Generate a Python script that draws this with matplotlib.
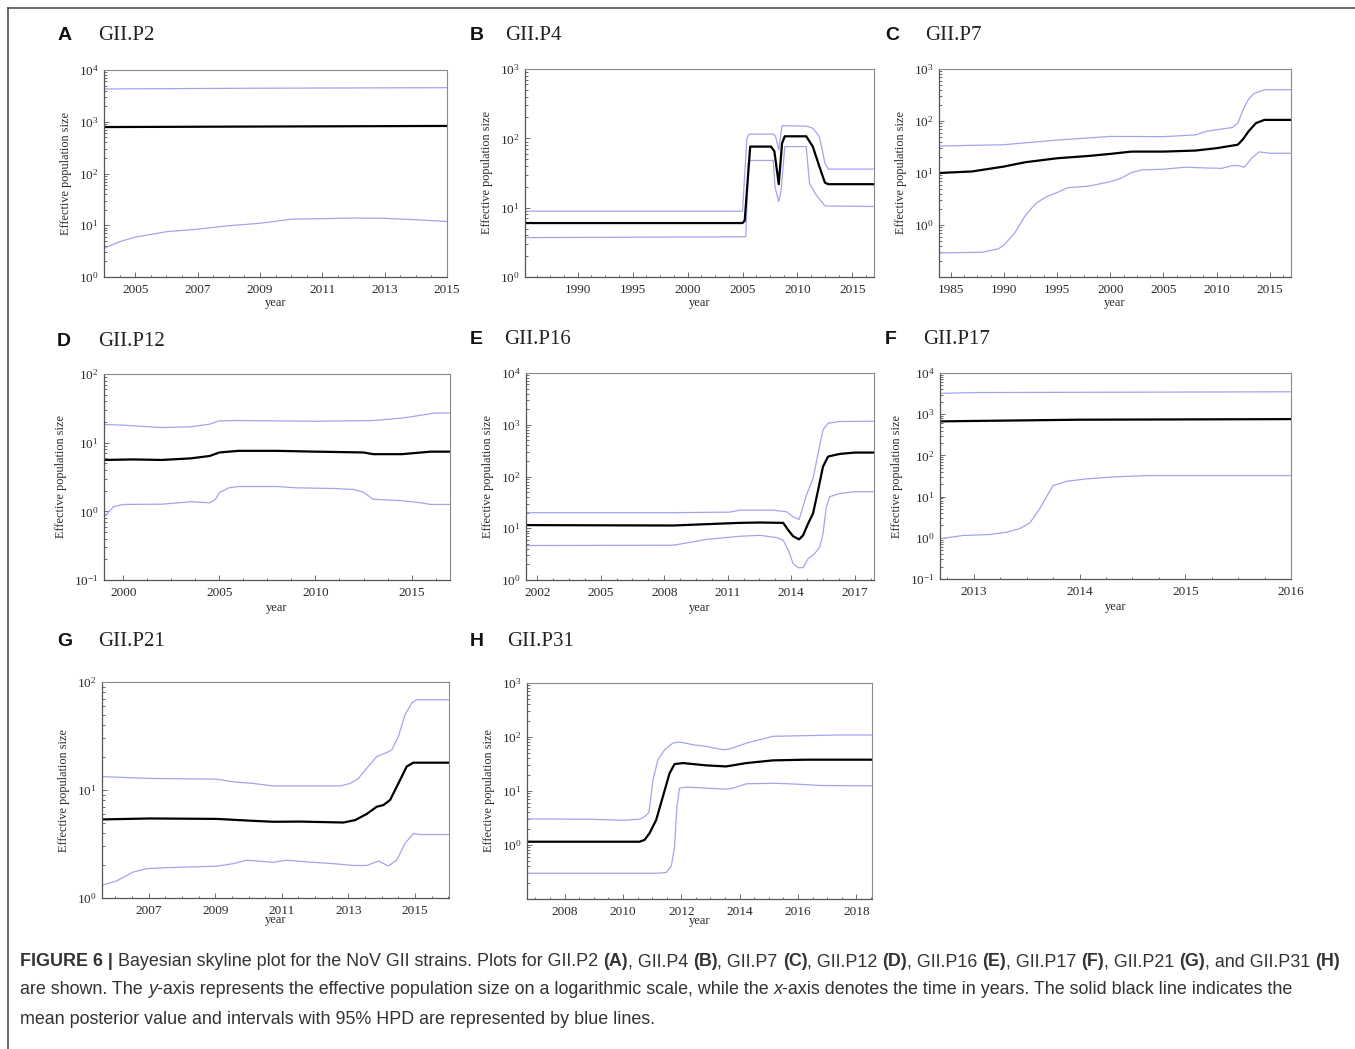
import matplotlib
matplotlib.use("Agg")
import matplotlib.pyplot as plt
from matplotlib.lines import Line2D
from matplotlib.ticker import FixedLocator, LogLocator, NullFormatter, AutoMinorLocator

# ---- data (year, effective population size) ----

# A  GII.P2
a_upper_year = [2004.0, 2009.0, 2015.0]
a_upper = [4300, 4450, 4550]
a_mean_year = [2004.0, 2015.0]
a_mean = [790, 830]
a_lower_year = [2004.0, 2004.5, 2005, 2006, 2007, 2008, 2009, 2010, 2011, 2012, 2013, 2014, 2015]
a_lower = [3.6, 4.8, 5.9, 7.5, 8.4, 9.8, 10.9, 13.1, 13.4, 13.8, 13.6, 12.8, 11.8]

# B  GII.P4
b_upper_year = [1985.2, 2005.0, 2005.4, 2005.6, 2007.8, 2008.0, 2008.3, 2008.5, 2008.6,
                2010.8, 2011.4, 2012.0, 2012.5, 2012.8, 2016.97]
b_upper = [8.9, 8.9, 100, 115, 115, 108, 68, 120, 152, 150, 140, 106, 44, 36, 36]
b_mean_year = [1985.2, 2005.0, 2005.2, 2005.7, 2007.6, 2007.9, 2008.3, 2008.6, 2008.85,
               2010.8, 2011.4, 2012.0, 2012.5, 2012.8, 2016.97]
b_mean = [6.0, 6.0, 6.5, 76, 76, 65, 21.8, 85, 107, 107, 76, 39, 23, 21.8, 21.8]
b_lower_year = [1985.2, 2005.3, 2005.55, 2007.8, 2007.95, 2008.3, 2008.5, 2008.85,
                2010.8, 2011.1, 2011.7, 2012.5, 2016.97]
b_lower = [3.7, 3.8, 48, 48, 20, 12.2, 17, 76, 76, 22.5, 15.3, 10.6, 10.4]

# C  GII.P7
c_upper_year = [1983.9, 1990, 1995, 2000, 2005, 2008, 2009, 2010, 2011.5, 2012, 2012.5,
                2013, 2013.5, 2014.5, 2017.0]
c_upper = [33, 35, 43, 50.5, 50, 54, 63, 68, 75, 91, 165, 260, 335, 400, 400]
c_mean_year = [1983.9, 1987, 1990, 1992, 1995, 1998, 2000, 2002, 2005, 2008, 2010, 2012,
               2012.5, 2013, 2013.7, 2014.5, 2017.0]
c_mean = [10, 10.7, 13.3, 16.1, 19.2, 21.3, 23.3, 25.8, 25.8, 27, 30, 35, 45, 63, 91, 105, 105]
c_lower_year = [1983.9, 1988, 1989.5, 1990, 1991, 1992, 1993, 1994, 1995, 1996, 1998, 2000,
                2001, 2002, 2003, 2005, 2007, 2009, 2010.5, 2011.5, 2012, 2012.6, 2013.3,
                2014, 2015, 2017.0]
c_lower = [0.29, 0.30, 0.35, 0.41, 0.69, 1.5, 2.6, 3.5, 4.2, 5.2, 5.6, 6.8, 7.9, 10.2, 11.5,
           11.8, 12.9, 12.5, 12.3, 13.9, 13.9, 12.9, 19.2, 25.5, 24, 24]

# D  GII.P12
d_upper_year = [1999.0, 2000, 2002, 2003.5, 2004.5, 2005, 2006, 2010, 2013, 2014.5, 2015.3,
                2016.2, 2017.0]
d_upper = [18.4, 18, 16.6, 17, 18.6, 20.8, 21, 20.5, 21, 22.8, 24.6, 27, 27]
d_mean_year = [1999.0, 2000.5, 2002, 2003.5, 2004.5, 2005, 2006, 2008, 2010, 2012.5, 2013,
               2014.5, 2016, 2017.0]
d_mean = [5.6, 5.7, 5.6, 5.9, 6.4, 7.2, 7.6, 7.6, 7.4, 7.2, 6.8, 6.8, 7.4, 7.4]
d_lower_year = [1999.0, 1999.5, 2000, 2002, 2003.5, 2004.5, 2004.8, 2005, 2005.5, 2006, 2008,
                2009, 2011, 2012, 2012.5, 2013, 2014.5, 2015.5, 2016, 2017.0]
d_lower = [0.83, 1.17, 1.26, 1.27, 1.38, 1.33, 1.5, 1.87, 2.2, 2.3, 2.3, 2.2, 2.15, 2.08, 1.9,
           1.5, 1.43, 1.33, 1.26, 1.26]

# E  GII.P16
e_upper_year = [2001.47, 2008.43, 2011.1, 2011.58, 2013.15, 2013.78, 2014.09, 2014.37,
                2014.56, 2014.72, 2015.03, 2015.27, 2015.5, 2015.74, 2016.29, 2017.91]
e_upper = [20, 20, 20.5, 22.4, 22.4, 20.8, 16.6, 14.8, 26, 43.8, 92, 281, 800, 1070, 1156, 1170]
e_mean_year = [2001.47, 2008.43, 2010.0, 2011.58, 2012.52, 2013.62, 2013.86, 2014.09, 2014.37,
               2014.56, 2014.8, 2015.03, 2015.27, 2015.5, 2015.74, 2016.29, 2017.0, 2017.91]
e_mean = [11.5, 11.3, 12, 12.7, 12.9, 12.7, 9.2, 7.0, 6.1, 7.3, 12.4, 19.3, 54.7, 155, 243,
          273, 290, 290]
e_lower_year = [2001.47, 2008.43, 2009.06, 2010.0, 2011.58, 2012.52, 2013.3, 2013.62, 2013.86,
                2014.09, 2014.33, 2014.56, 2014.8, 2015.11, 2015.35, 2015.5, 2015.66, 2015.82,
                2016.29, 2017.0, 2017.91]
e_lower = [4.63, 4.7, 5.2, 6.1, 7.0, 7.3, 6.6, 5.87, 3.76, 2.07, 1.73, 1.73, 2.59, 3.24, 4.37,
           7.9, 26, 40.7, 47, 50.8, 50.8]

# F  GII.P17
f_upper_year = [2012.68, 2013.0, 2016.0]
f_upper = [3200, 3350, 3500]
f_mean_year = [2012.68, 2014.0, 2016.0]
f_mean = [670, 735, 760]
f_lower_year = [2012.68, 2012.9, 2013.15, 2013.31, 2013.43, 2013.53, 2013.62, 2013.69, 2013.75,
                2013.88, 2014.07, 2014.32, 2014.64, 2016.0]
f_lower = [0.95, 1.14, 1.2, 1.37, 1.65, 2.3, 4.9, 10.2, 18.5, 23.6, 27, 30, 32.4, 32.4]

# G  GII.P21
g_upper_year = [2005.6, 2007.04, 2009.04, 2009.54, 2010.14, 2010.74, 2012.04, 2012.75, 2013.05,
                2013.3, 2013.55, 2013.85, 2014.15, 2014.3, 2014.5, 2014.7, 2014.9, 2015.05,
                2016.02]
g_upper = [13.3, 12.8, 12.6, 11.9, 11.5, 10.9, 10.9, 10.9, 11.5, 12.8, 15.9, 20.4, 22.2, 23.5,
           31.3, 49.7, 63.8, 68.5, 68.5]
g_mean_year = [2005.6, 2007.04, 2009.04, 2010.04, 2010.74, 2011.54, 2012.85, 2013.2, 2013.55,
               2013.85, 2014.05, 2014.25, 2014.5, 2014.75, 2014.95, 2016.02]
g_mean = [5.34, 5.45, 5.4, 5.2, 5.08, 5.1, 5.0, 5.26, 6.0, 7.0, 7.25, 8.07, 11.5, 16.5, 17.9,
          17.9]
g_lower_year = [2005.6, 2006.04, 2006.54, 2006.94, 2007.54, 2009.04, 2009.54, 2009.94, 2010.74,
                2011.14, 2011.74, 2012.55, 2013.15, 2013.55, 2013.9, 2014.2, 2014.45, 2014.7,
                2014.95, 2015.15, 2016.02]
g_lower = [1.31, 1.44, 1.74, 1.87, 1.91, 1.97, 2.08, 2.24, 2.14, 2.24, 2.16, 2.08, 2.0, 2.0,
           2.2, 1.98, 2.24, 3.2, 3.96, 3.87, 3.87]

# H  GII.P31
h_upper_year = [2006.71, 2008.86, 2010.0, 2010.57, 2010.74, 2010.89, 2011.03, 2011.2, 2011.43,
                2011.71, 2011.94, 2012.4, 2012.86, 2013.43, 2013.66, 2014.23, 2014.69, 2015.14,
                2016.29, 2017.43, 2018.54]
h_upper = [3.04, 3.0, 2.87, 3.0, 3.36, 3.98, 16.1, 38, 58, 77, 81, 72, 67, 58, 60, 77, 89, 103,
           106, 109, 109]
h_mean_year = [2006.71, 2010.57, 2010.74, 2010.91, 2011.14, 2011.37, 2011.6, 2011.77, 2012.06,
               2012.86, 2013.54, 2014.23, 2015.14, 2016.29, 2018.54]
h_mean = [1.15, 1.15, 1.24, 1.65, 2.91, 7.9, 21.4, 31.5, 32.9, 29.8, 28.5, 32.9, 36.9, 38, 38]
h_lower_year = [2006.71, 2011.14, 2011.49, 2011.66, 2011.77, 2011.85, 2011.94, 2012.17, 2012.86,
                2013.54, 2013.77, 2014.23, 2015.14, 2015.71, 2016.86, 2018.54]
h_lower = [0.30, 0.30, 0.31, 0.41, 0.93, 5.15, 11.3, 11.8, 11.3, 10.8, 11.3, 13.6, 13.9, 13.6,
           12.6, 12.5]

panel_letters = ["A", "B", "C", "D", "E", "F", "G", "H"]
panel_names = ["GII.P2", "GII.P4", "GII.P7", "GII.P12", "GII.P16", "GII.P17", "GII.P21", "GII.P31"]
x_ticks = [
    [2005, 2007, 2009, 2011, 2013, 2015],
    [1990, 1995, 2000, 2005, 2010, 2015],
    [1985, 1990, 1995, 2000, 2005, 2010, 2015],
    [2000, 2005, 2010, 2015],
    [2002, 2005, 2008, 2011, 2014, 2017],
    [2013, 2014, 2015, 2016],
    [2007, 2009, 2011, 2013, 2015],
    [2008, 2010, 2012, 2014, 2016, 2018],
]
y_ticks = [
    [1, 10, 100, 1000, 10000],
    [1, 10, 100, 1000],
    [1, 10, 100, 1000],
    [0.1, 1, 10, 100],
    [1, 10, 100, 1000, 10000],
    [0.1, 1, 10, 100, 1000, 10000],
    [1, 10, 100],
    [1, 10, 100, 1000],
]
x_limits = [(2004.0, 2015.0), (1985.2, 2016.97), (1983.9, 2017.0), (1999.0, 2017.0),
            (2001.47, 2017.91), (2012.68, 2016.0), (2005.6, 2016.02), (2006.71, 2018.54)]
y_limits = [(1, 1e4), (1, 1e3), (0.1, 1e3), (0.1, 1e2), (1, 1e4), (0.1, 1e4), (1, 1e2), (0.1, 1e3)]

series = [
    (a_upper_year, a_upper, a_mean_year, a_mean, a_lower_year, a_lower),
    (b_upper_year, b_upper, b_mean_year, b_mean, b_lower_year, b_lower),
    (c_upper_year, c_upper, c_mean_year, c_mean, c_lower_year, c_lower),
    (d_upper_year, d_upper, d_mean_year, d_mean, d_lower_year, d_lower),
    (e_upper_year, e_upper, e_mean_year, e_mean, e_lower_year, e_lower),
    (f_upper_year, f_upper, f_mean_year, f_mean, f_lower_year, f_lower),
    (g_upper_year, g_upper, g_mean_year, g_mean, g_lower_year, g_lower),
    (h_upper_year, h_upper, h_mean_year, h_mean, h_lower_year, h_lower),
]

# ---- layout (pixels of the 1355x1049 canvas) ----
W, H = 1355, 1049
# left, right, top, bottom of each plotting area
boxes = [(104, 447, 70, 277), (525, 874, 69, 277), (939, 1291, 69, 277),
         (104, 450, 374, 580), (526, 874, 373, 580), (940, 1291, 373, 579),
         (102, 449, 682, 898), (527, 872, 683, 899)]
# letter x, title x, header y
headers = [(58, 98, 35), (470, 505, 35), (885, 925, 35),
           (57, 98, 342), (470, 504, 340), (885, 923, 340),
           (57, 98, 642), (470, 507, 642)]
xlabel_pads = [1, 1, 1, 2, 2, 2, -2, -2]

HPD_BLUE = "#a4a4ee"

plt.rcParams["font.family"] = ["Liberation Serif", "DejaVu Serif"]
plt.rcParams["mathtext.fontset"] = "stix"

fig = plt.figure(figsize=(W / 100, H / 100), dpi=100)

for i in range(8):
    l, r, t, b = boxes[i]
    ax = fig.add_axes([l / W, 1 - b / H, (r - l) / W, (b - t) / H])
    up_x, up_y, m_x, m_y, lo_x, lo_y = series[i]
    ax.plot(up_x, up_y, color=HPD_BLUE, lw=0.9)
    ax.plot(lo_x, lo_y, color=HPD_BLUE, lw=0.9)
    ax.plot(m_x, m_y, color="black", lw=1.6)
    ax.set_yscale("log")
    ax.set_xlim(*x_limits[i])
    ax.set_ylim(*y_limits[i])
    ax.xaxis.set_major_locator(FixedLocator(x_ticks[i]))
    ax.xaxis.set_minor_locator(AutoMinorLocator(4))
    ax.yaxis.set_major_locator(FixedLocator(y_ticks[i]))
    ax.yaxis.set_minor_locator(LogLocator(base=10, subs=range(2, 10), numticks=30))
    ax.yaxis.set_minor_formatter(NullFormatter())
    ax.tick_params(which="both", direction="in", colors="#555555", labelcolor="#2a2a2a",
                   labelsize=9.5, width=0.6)
    ax.tick_params(axis="x", pad=5)
    ax.tick_params(axis="y", pad=4)
    ax.tick_params(which="major", length=3.5)
    ax.tick_params(which="minor", length=1.8)
    for side in ["left", "bottom"]:
        ax.spines[side].set_color("#555555")
        ax.spines[side].set_linewidth(0.9)
    for side in ["top", "right"]:
        ax.spines[side].set_color("#8a8a8a")
        ax.spines[side].set_linewidth(0.8)
    ax.set_xlabel("year", fontsize=9, color="#2a2a2a", labelpad=xlabel_pads[i])
    ax.set_ylabel("Effective population size", fontsize=8.8, color="#2a2a2a", labelpad=5)

    lx, tx, hy = headers[i]
    fig.text(lx / W, 1 - hy / H, panel_letters[i], family=["Liberation Sans", "DejaVu Sans"],
             fontsize=14, fontweight="bold", ha="left", va="center", color="#111111")
    fig.text(tx / W, 1 - hy / H, panel_names[i], fontsize=15, ha="left", va="center",
             color="#222222")

# frame lines at the left and top edge
frame_kw = dict(transform=fig.transFigure, color="#444444", lw=1.1)
fig.add_artist(Line2D([8 / W, 8 / W], [0, 1 - 8 / H], **frame_kw))
fig.add_artist(Line2D([8 / W, 1], [1 - 8 / H, 1 - 8 / H], **frame_kw))

# ---- caption ----
caption_lines = [
    [("FIGURE 6 |", "bold", "normal"),
     (" Bayesian skyline plot for the NoV GII strains. Plots for GII.P2 ", "normal", "normal"),
     ("(A)", "bold", "normal"), (", GII.P4 ", "normal", "normal"),
     ("(B)", "bold", "normal"), (", GII.P7 ", "normal", "normal"),
     ("(C)", "bold", "normal"), (", GII.P12 ", "normal", "normal"),
     ("(D)", "bold", "normal"), (", GII.P16 ", "normal", "normal"),
     ("(E)", "bold", "normal"), (", GII.P17 ", "normal", "normal"),
     ("(F)", "bold", "normal"), (", GII.P21 ", "normal", "normal"),
     ("(G)", "bold", "normal"), (", and GII.P31 ", "normal", "normal"),
     ("(H)", "bold", "normal")],
    [("are shown. The ", "normal", "normal"), ("y", "normal", "italic"),
     ("-axis represents the effective population size on a logarithmic scale, while the ",
      "normal", "normal"),
     ("x", "normal", "italic"),
     ("-axis denotes the time in years. The solid black line indicates the", "normal", "normal")],
    [("mean posterior value and intervals with 95% HPD are represented by blue lines.",
      "normal", "normal")],
]
caption_y = [962, 990, 1019]
caption_x0 = 20
caption_width = 1320
cap_family = ["Liberation Sans Narrow", "Liberation Sans", "DejaVu Sans"]
renderer = fig.canvas.get_renderer()


def seg_width(s, size, weight, style):
    # width including trailing spaces: measure with a bar appended
    t1 = fig.text(0, 0, s + "|", family=cap_family, fontsize=size, fontweight=weight,
                  fontstyle=style)
    t2 = fig.text(0, 0, "|", family=cap_family, fontsize=size, fontweight=weight,
                  fontstyle=style)
    w = t1.get_window_extent(renderer).width - t2.get_window_extent(renderer).width
    t1.remove()
    t2.remove()
    return w


# pick the size so the first line spans the same width as in the reference
test_size = 12
line1_w = sum(seg_width(s, test_size, wt, st) for s, wt, st in caption_lines[0])
cap_size = test_size * caption_width / line1_w

for line, y in zip(caption_lines, caption_y):
    x = caption_x0
    for s, wt, st in line:
        fig.text(x / W, 1 - y / H, s, family=cap_family, fontsize=cap_size, fontweight=wt,
                 fontstyle=st, ha="left", va="center", color="#333333")
        x += seg_width(s, cap_size, wt, st)

fig.savefig("out.png", dpi=100)
